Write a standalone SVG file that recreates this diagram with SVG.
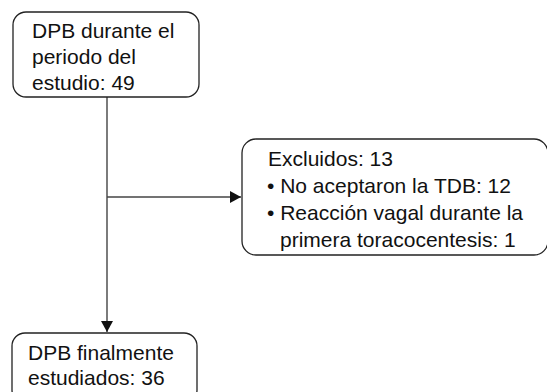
<svg xmlns="http://www.w3.org/2000/svg" width="547" height="392" viewBox="0 0 547 392">
<style>
.box{fill:#fff;stroke:#222;stroke-width:1.3}
.t{font-family:"Liberation Sans",Arial,sans-serif;font-size:21px;fill:#111}
.c{stroke:#444;stroke-width:1.4;fill:none}
</style>
<defs>
<marker id="ah" markerWidth="12" markerHeight="12" refX="11" refY="6" orient="auto" markerUnits="userSpaceOnUse">
<path d="M0,0 L11,6 L0,12 Z" fill="#111"/>
</marker>
</defs>
<g id="connectors">
<line class="c" x1="107" y1="97" x2="107" y2="332" marker-end="url(#ah)"/>
<line class="c" x1="107" y1="197" x2="241" y2="197" marker-end="url(#ah)"/>
</g>
<g id="n1">
<rect class="box" x="13" y="12" width="186" height="85" rx="13"/>
<text class="t" x="32" y="38">DPB durante el</text>
<text class="t" x="32" y="64">periodo del</text>
<text class="t" x="32" y="90">estudio: 49</text>
</g>
<g id="n2">
<rect class="box" x="242" y="139" width="306" height="116" rx="14"/>
<text class="t" x="268" y="166">Excluidos: 13</text>
<text class="t" x="267" y="193">• No aceptaron la TDB: 12</text>
<text class="t" x="267" y="220">• Reacción vagal durante la</text>
<text class="t" x="280" y="247">primera toracocentesis: 1</text>
</g>
<g id="n3">
<rect class="box" x="12" y="333" width="185" height="70" rx="13"/>
<text class="t" x="28" y="360">DPB finalmente</text>
<text class="t" x="28" y="385">estudiados: 36</text>
</g>
</svg>
